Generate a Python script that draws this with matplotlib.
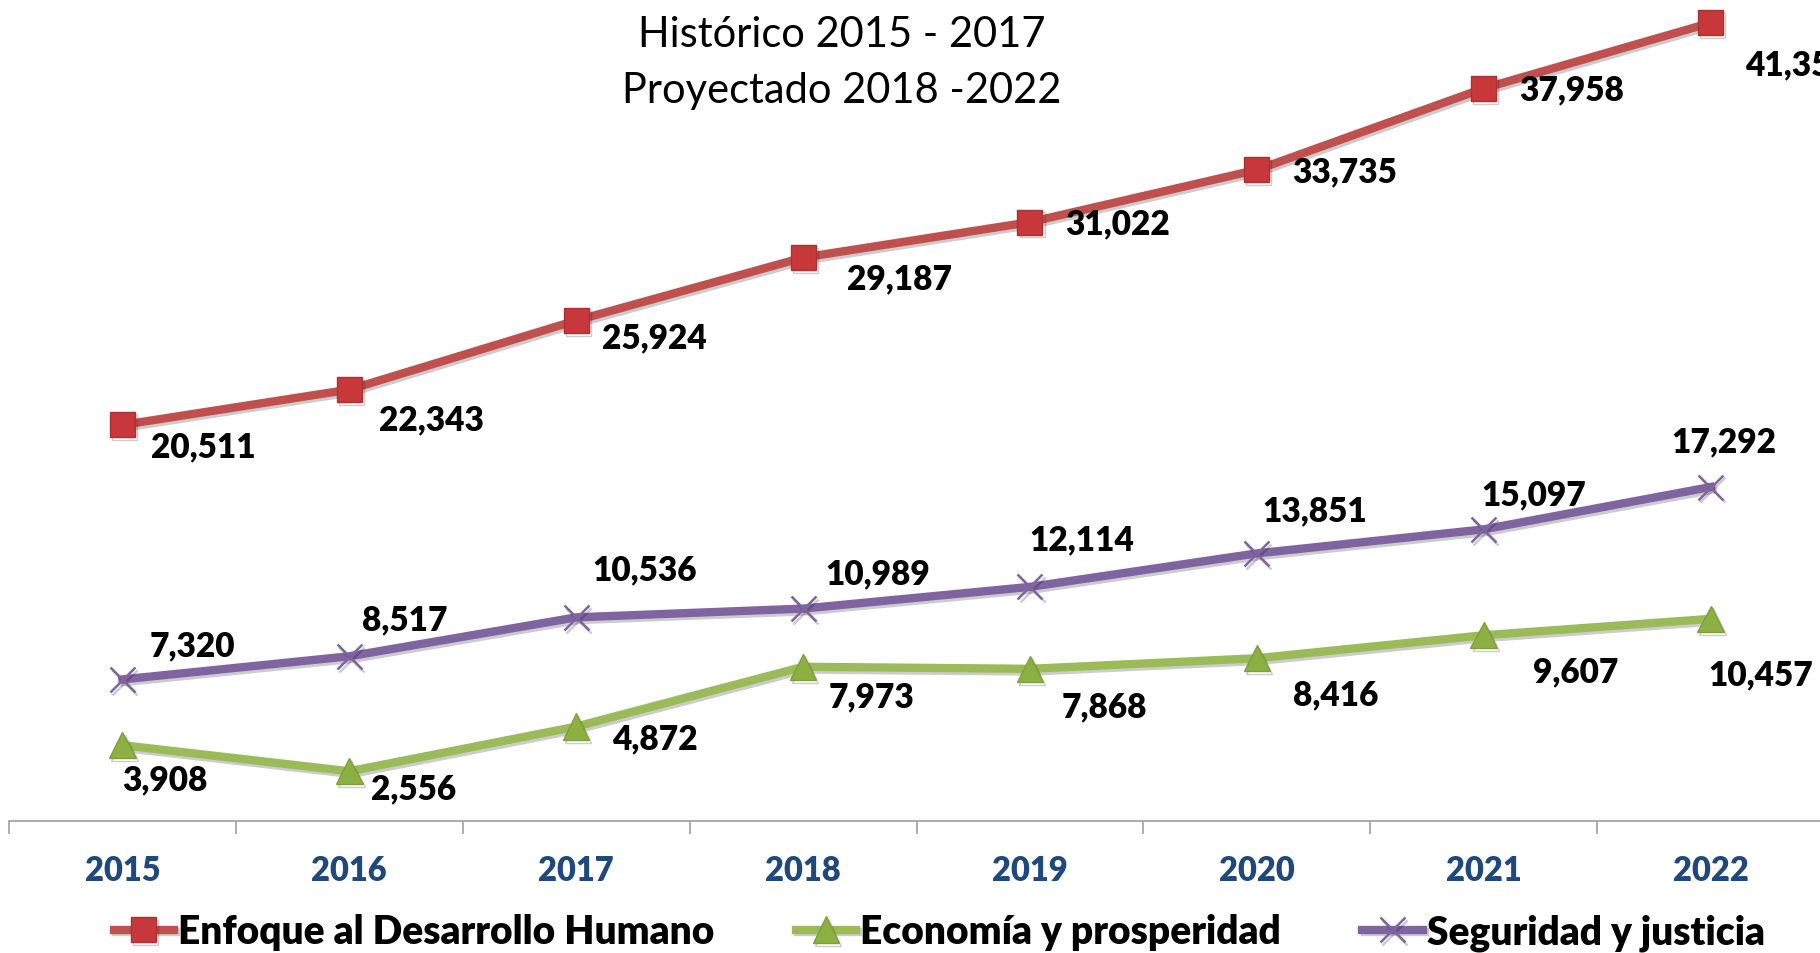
import matplotlib
matplotlib.use("Agg")
import matplotlib.pyplot as plt
import matplotlib.patheffects as pe
import numpy as np

plt.rcParams['font.family'] = ['Lato', 'DejaVu Sans']

years = ["2015", "2016", "2017", "2018", "2019", "2020", "2021", "2022"]
desarrollo = [20511, 22343, 25924, 29187, 31022, 33735, 37958, 41356]
economia = [3908, 2556, 4872, 7973, 7868, 8416, 9607, 10457]
seguridad = [7320, 8517, 10536, 10989, 12114, 13851, 15097, 17292]

# label offsets in pixels (dx, dy) for each point
off_desarrollo = [(81, -21), (82, -30), (78, -17), (96, -21), (88, -1), (88, -2), (88, -1), (87, -42)]
off_economia = [(42, -34), (64, -17), (79, -12), (68, -30), (74, -38), (79, -36), (92, -36), (50, -55)]
off_seguridad = [(70, 34), (55, 37), (68, 48), (75, 35), (52, 48), (58, 43), (50, 35), (13, 46)]

red = "#C0504D"
green = "#9BBB59"
purple = "#8064A2"

fig = plt.figure(figsize=(18.2, 9.54), dpi=100)
ax = fig.add_axes([9 / 1820, 0.1388, 1815 / 1820, 0.8612])

x = np.arange(len(years))
shadow = [pe.SimpleLineShadow(offset=(1.5, -2), alpha=0.2), pe.Normal()]

l1, = ax.plot(x, desarrollo, color=red, lw=6, marker="s", markersize=18,
              markerfacecolor="#C8383A", markeredgecolor="#A83232", markeredgewidth=1,
              path_effects=shadow, clip_on=False, zorder=3)
l2, = ax.plot(x, economia, color=green, lw=6, marker="^", markersize=19,
              markerfacecolor="#8DB043", markeredgecolor="#7E9F3A", markeredgewidth=1,
              path_effects=shadow, clip_on=False, zorder=3)
l3, = ax.plot(x, seguridad, color=purple, lw=6, marker="x", markersize=18,
              markeredgewidth=1.8, markeredgecolor=purple,
              path_effects=shadow, clip_on=False, zorder=3)

for vals, offs in [(desarrollo, off_desarrollo), (economia, off_economia), (seguridad, off_seguridad)]:
    for i, v in enumerate(vals):
        ax.annotate(f"{v:,}", (x[i], v), xytext=offs[i], textcoords="offset pixels",
                    ha="center", va="center", fontsize=24, fontweight="heavy",
                    color="black", annotation_clip=False, zorder=4)

ax.set_xlim(-0.5, 7.5)
ax.set_ylim(0, 42590)
ax.set_yticks([])
for s in ["top", "right", "left"]:
    ax.spines[s].set_visible(False)
ax.spines["bottom"].set_color("#A0A0A0")
ax.spines["bottom"].set_linewidth(1.2)
ax.set_xticks(x)
ax.set_xticklabels(years, fontsize=23.5, fontweight="heavy", color="#1F497D")
ax.tick_params(axis="x", which="major", length=0, pad=24)
ax.set_xticks(np.arange(-0.5, 8, 1), minor=True)
ax.tick_params(axis="x", which="minor", length=9, width=1.2, color="#A0A0A0", direction="out")
ax.patch.set_alpha(0)

fig.text(0.4627, 0.9507, "Histórico 2015 - 2017", ha="center", va="baseline", fontsize=30)
fig.text(0.4627, 0.892, "Proyectado 2018 -2022", ha="center", va="baseline", fontsize=30)

leg = fig.legend([l1, l2, l3], ["Enfoque al Desarrollo Humano", "Economía y prosperidad", "Seguridad y justicia"],
                 loc="center", bbox_to_anchor=(0.516, 0.022), ncol=3, frameon=False,
                 prop={"size": 28, "weight": "heavy"}, handlelength=1.55, handletextpad=0.1,
                 columnspacing=2.1, borderpad=0)

fig.savefig("out.png", dpi=100)
